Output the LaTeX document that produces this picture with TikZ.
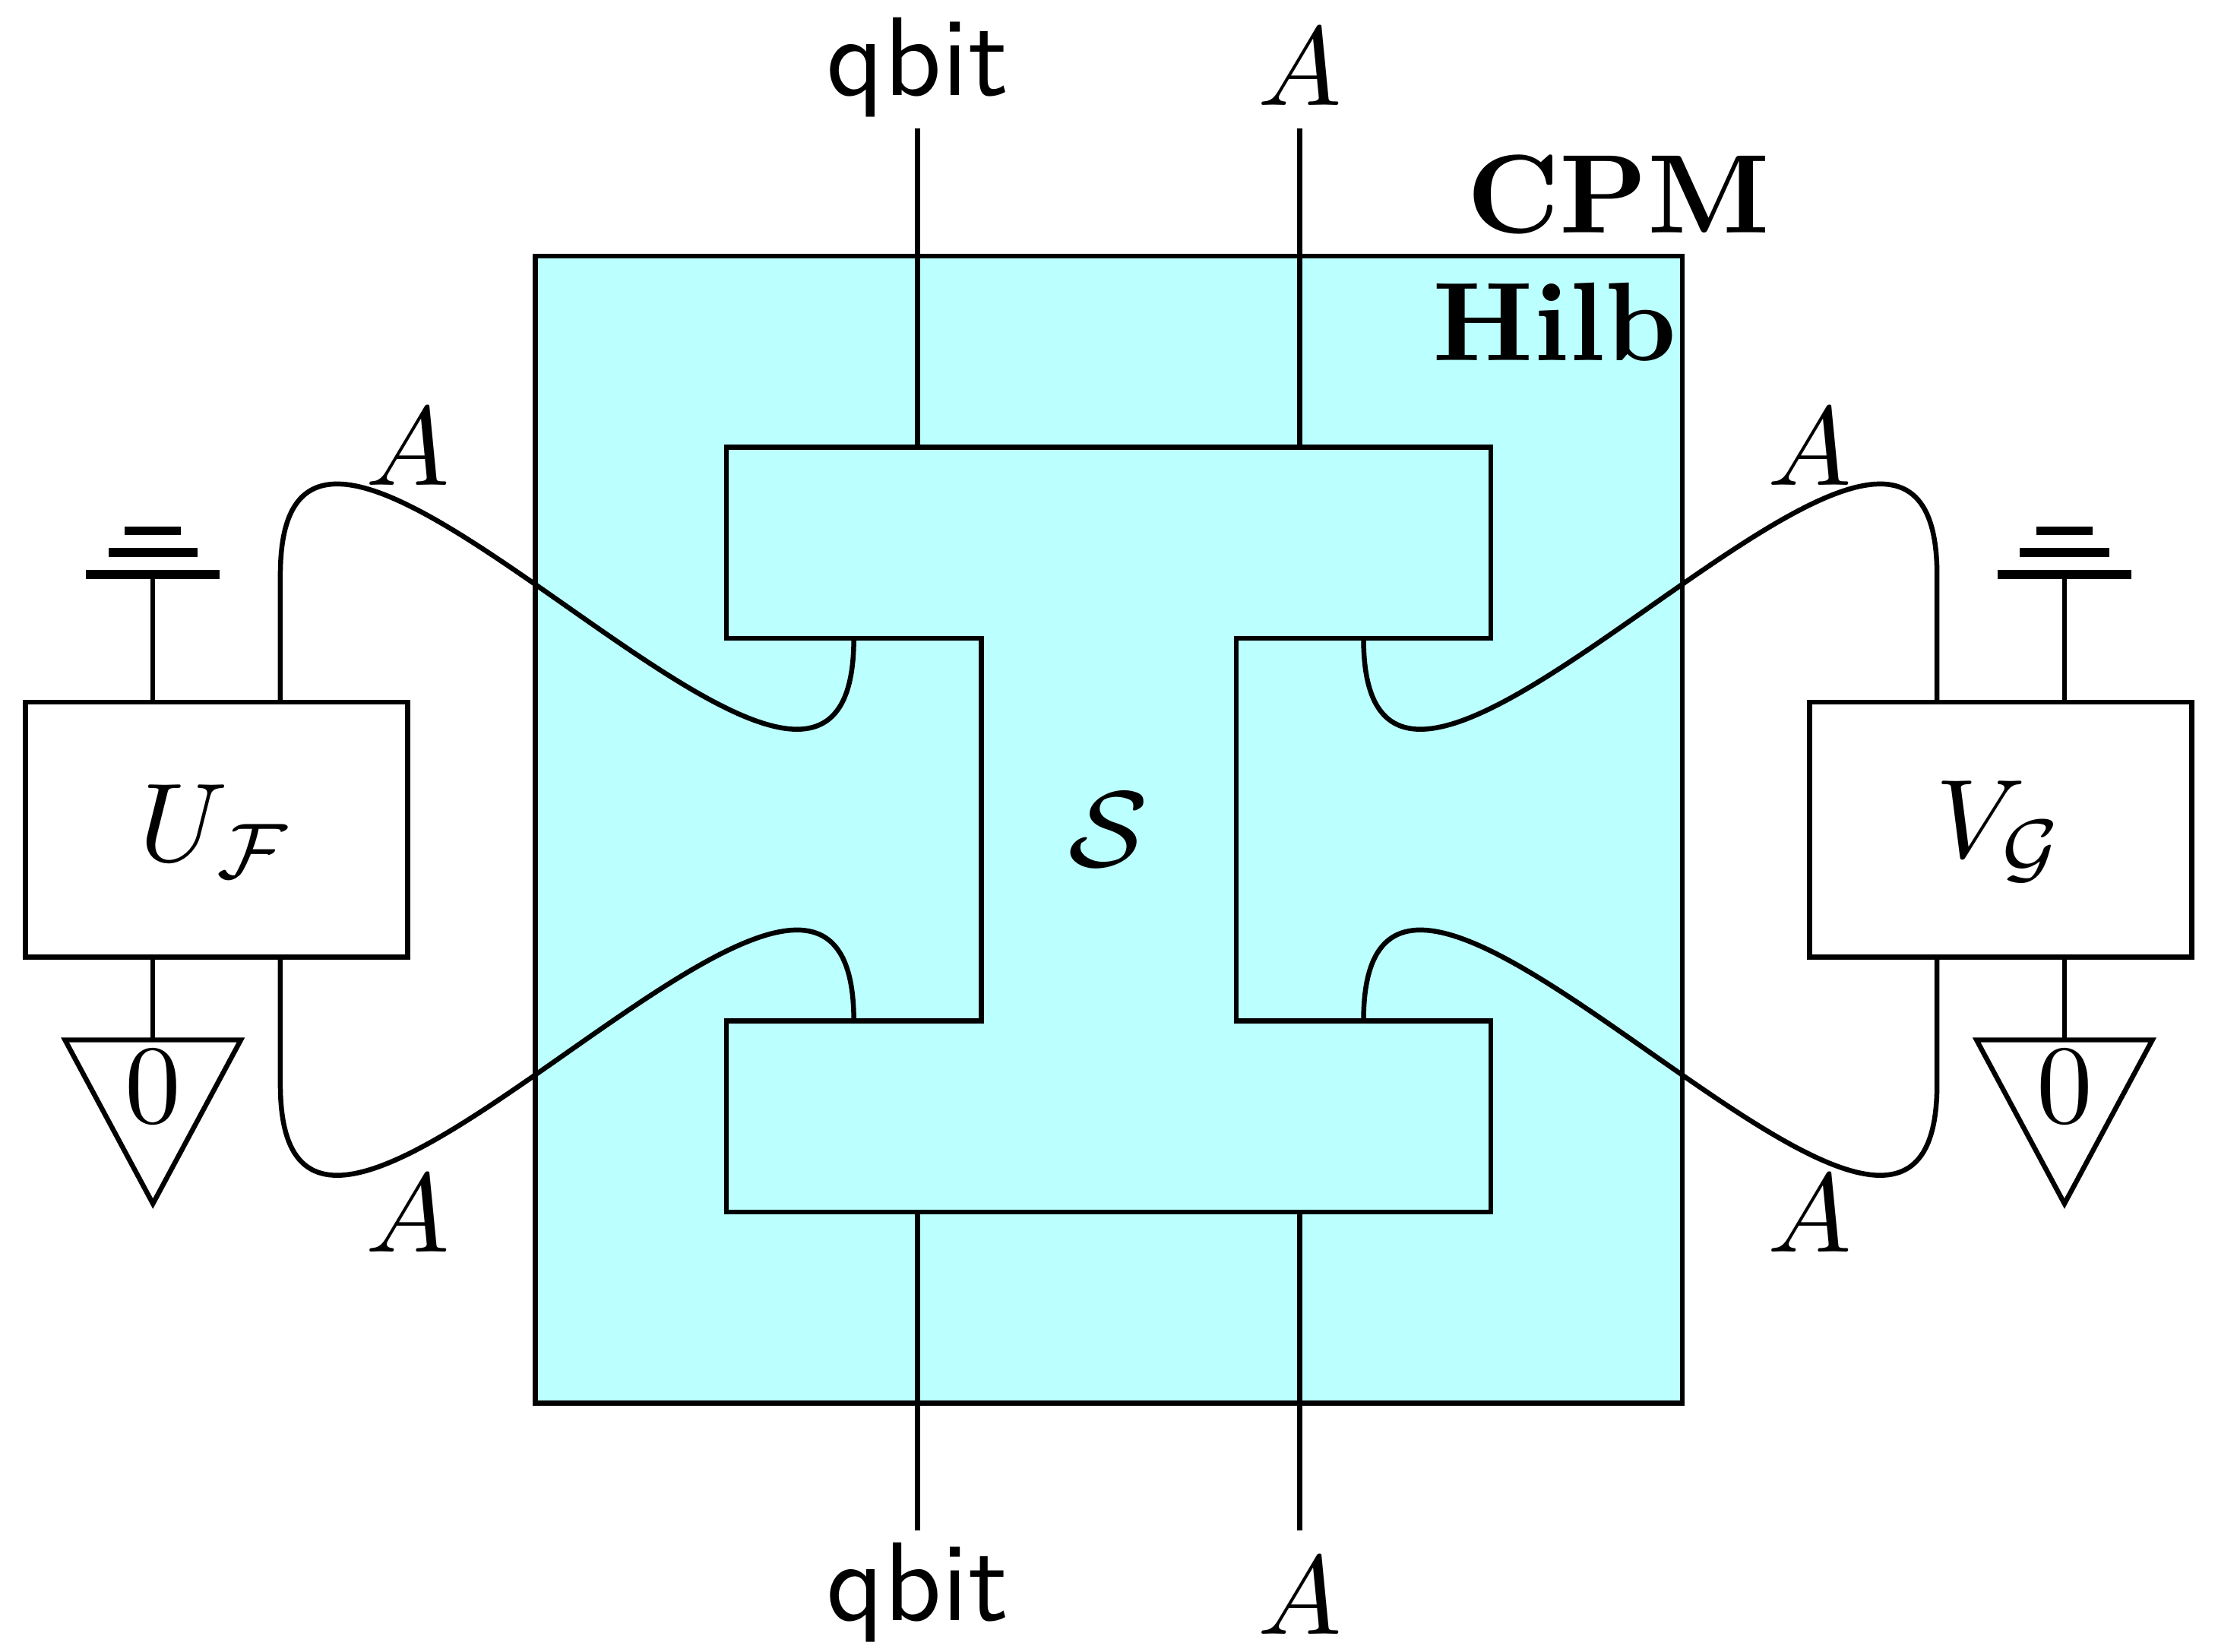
\documentclass[tikz,border=0pt]{standalone}
\usetikzlibrary{calc,positioning}
\definecolor{hilbfill}{HTML}{BBFFFF}
\tikzset{
  wire/.style={line width=2.2pt},
  box/.style={draw,line width=2.2pt,rectangle,inner sep=0pt,fill=white,minimum width=6cm,minimum height=4cm},
  bar/.style={fill=black,rectangle,inner sep=0pt,outer sep=0pt,minimum height=4pt},
  lbl/.style={scale=5,inner sep=0pt,outer sep=0pt},
  lblsmall/.style={scale=6.9,inner sep=0pt,outer sep=0pt}
}

\begin{document}
\begin{tikzpicture}
  \useasboundingbox (-8.4,-3.905) rectangle (26.41,22.02);

  \node [draw,line width=2.2pt,rectangle,fill=hilbfill,inner sep=0pt,minimum width=18cm,minimum height=18cm] at(9,9) (hilb) {};
  \node [lbl] at(17,18.97) (cpm_label) {\bfseries{}CPM};
  \node [lbl] at(16,16.97) (hilb_label) {\bfseries{}Hilb};

  % the process S
  \draw [wire] (3,15) -- (15,15) -- (15,12) -- (11,12) -- (11,6) -- (15,6) -- (15,3)
  -- (3,3) -- (3,6) -- (7,6) -- (7,12) -- (3,12) -- cycle;
  \node [lblsmall] at(9,9) (process_label) {$\scriptstyle\mathcal{S}$};

  \foreach \x/\t/\yt/\yb in {6/\textsf{qbit}/20.52/-3.41,12/$A$/20.37/-3.62}
  {
    \coordinate (wire_top_\x) at(\x,20);
    \coordinate (port_top_\x) at(\x,15);
    \coordinate (wire_bot_\x) at(\x,-2);
    \coordinate (port_bot_\x) at(\x,3);
    \draw [wire] (wire_top_\x) -- (port_top_\x);
    \draw [wire] (wire_bot_\x) -- (port_bot_\x);
    \node [lbl,anchor=base] at(\x,\yt) (label_top_\x) {\t};
    \node [lbl,anchor=base] at(\x,\yb) (label_bot_\x) {\t};
  }

  \foreach \s/\bx/\gx/\wx/\ix/\ax/\t in {left/-5/-6/-4/5/-2/{U_{\mathcal{F}}},right/23/24/22/13/20/{V_{\mathcal{G}}}}
  {
    \node [box] at(\bx,9) (box_\s) {};
    \node [lbl] at(\bx,8.97) (box_label_\s) {$\t$};

    \coordinate (bend_up_\s) at(\wx,13);
    \coordinate (bend_down_\s) at(\wx,5);
    \coordinate (socket_up_\s) at(\ix,12);
    \coordinate (socket_down_\s) at(\ix,6);
    \draw [wire] (box_\s.north -| bend_up_\s) -- (bend_up_\s)
    to[out=90,in=-90,looseness=1.5] (socket_up_\s);
    \draw [wire] (box_\s.south -| bend_down_\s) -- (bend_down_\s)
    to[out=-90,in=90,looseness=1.5] (socket_down_\s);
    \node [lbl] at(\ax,15) (label_up_\s) {$A$};
    \node [lbl] at(\ax,2.97) (label_down_\s) {$A$};

    % discard
    \foreach \n/\w/\y in {0/2.1/13,1/1.4/13.35,2/.88/13.69}
    {
      \node [bar,minimum width=\w cm] at(\gx,\y) (ground_\s_\n) {};
    }
    \draw [wire] (box_\s.north -| ground_\s_0) -- (ground_\s_0);

    % state
    \coordinate (state_top_\s) at(\gx,5.7);
    \draw [wire,line join=miter] (\gx-1.38,5.7) -- (\gx+1.38,5.7) -- (\gx,3.13) -- cycle;
    \draw [wire] (box_\s.south -| state_top_\s) -- (state_top_\s);
    \node [lbl] at(\gx,4.97) (state_label_\s) {$0$};
  }
\end{tikzpicture}
\end{document}
